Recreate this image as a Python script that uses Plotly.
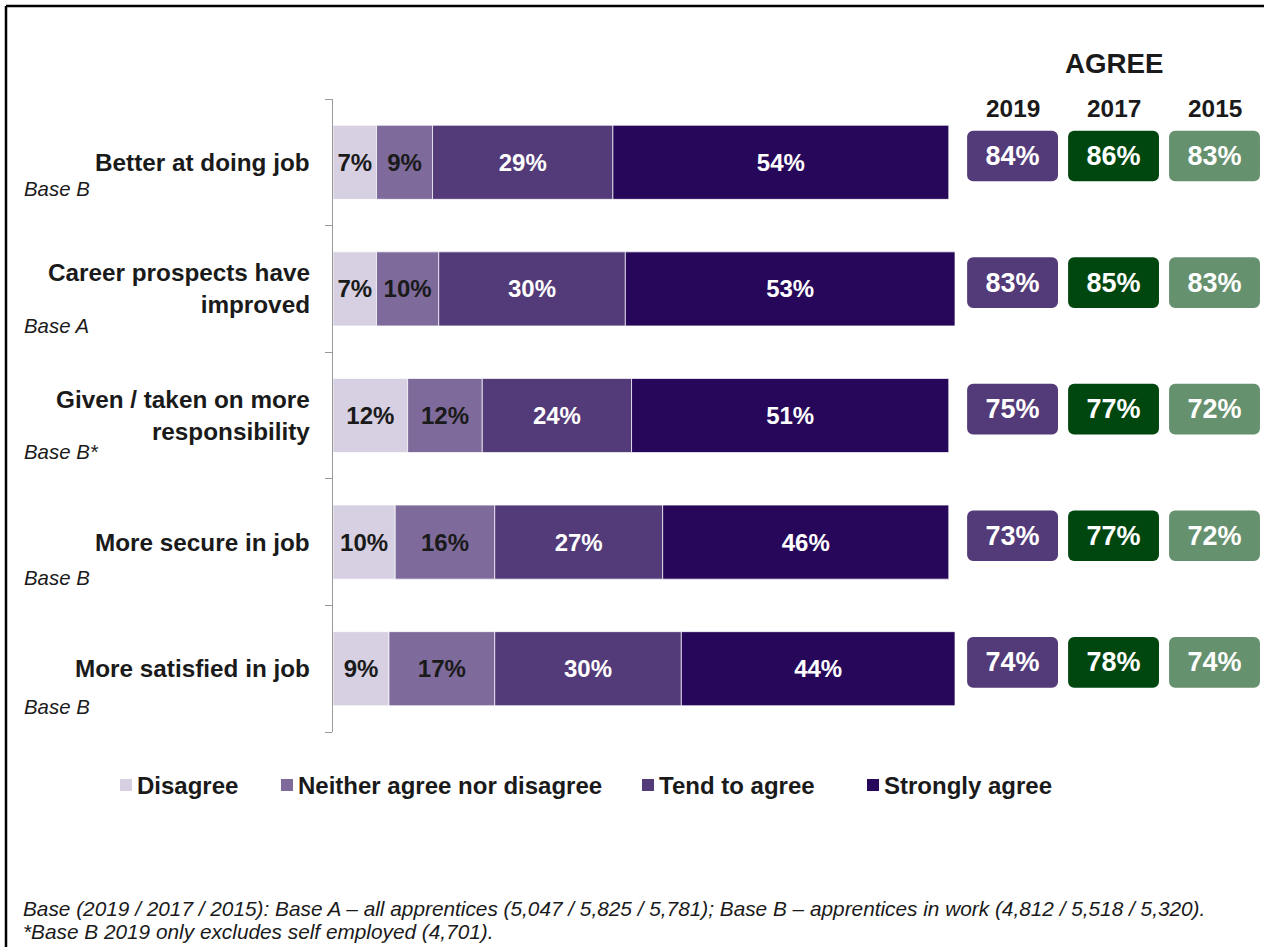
import numpy as np
import plotly.graph_objects as go

# ---- data ----
statements = [
    "Better at doing job",
    "Career prospects have<br>improved",
    "Given / taken on more<br>responsibility",
    "More secure in job",
    "More satisfied in job",
]
bases = ["Base B", "Base A", "Base B*", "Base B", "Base B"]

categories = ["Disagree", "Neither agree nor disagree", "Tend to agree", "Strongly agree"]
disagree = [7, 7, 12, 10, 9]
neither = [9, 10, 12, 16, 17]
tend_agree = [29, 30, 24, 27, 30]
strongly_agree = [54, 53, 51, 46, 44]

years = ["2019", "2017", "2015"]
agree_2019 = [84, 83, 75, 73, 74]
agree_2017 = [86, 85, 77, 77, 78]
agree_2015 = [83, 83, 72, 72, 74]

# ---- styling ----
FONT = "Liberation Sans"
DARK = "#1a1a1a"
W, H = 1264, 947
ML, MR, MT, MB = 333, 0, 99, 215
PW, PH = W - ML - MR, H - MT - MB
BAR_END = 955  # right edge of the 100% bar area

def px_x(p):
    return (p - ML) / PW

def px_y(p):
    return (H - MB - p) / PH

rows = np.arange(len(statements))
split = px_x(BAR_END)

seg_colors = ["#d6d0e2", "#7e6b9c", "#533a79", "#26075a"]
seg_text = [DARK, DARK, "white", "white"]

fig = go.Figure()

left = np.zeros(len(statements))
for name, vals, color, tcolor in zip(categories, [disagree, neither, tend_agree, strongly_agree],
                                      seg_colors, seg_text):
    vals = np.array(vals, dtype=float)
    fig.add_trace(go.Bar(
        name=name, orientation="h", y=rows, x=vals, base=left.copy(),
        width=0.585,
        marker=dict(color=color, line=dict(color="rgba(255,255,255,0.7)", width=1)),
        text=[f"{int(v)}%" for v in vals], textposition="inside",
        insidetextanchor="middle", textangle=0, constraintext="none",
        textfont=dict(family=FONT, size=24, color=tcolor, weight="bold"),
        hoverinfo="skip", showlegend=False,
    ))
    left += vals

box_colors = ["#533a79", "#00460f", "#66916f"]
for k, (yr, vals, color) in enumerate(zip(years, [agree_2019, agree_2017, agree_2015], box_colors)):
    fig.add_trace(go.Bar(
        orientation="h", y=rows, x=[0.9] * len(vals), base=[k] * len(vals),
        width=0.40, offset=-0.25, xaxis="x2", yaxis="y",
        marker=dict(color=color, cornerradius=6, line=dict(width=0)),
        text=[f"{v}%" for v in vals], textposition="inside",
        insidetextanchor="middle", textangle=0, constraintext="none",
        textfont=dict(family=FONT, size=27, color="white", weight="bold"),
        showlegend=False, hoverinfo="skip",
    ))

annotations = []
shapes = []

# statement labels and base notes
base_shift = [27, 37, 36, 36, 38]
for i, (s, b) in enumerate(zip(statements, bases)):
    annotations.append(dict(
        xref="paper", yref="y", x=0, y=i, xanchor="right", yanchor="middle",
        xshift=-21, text=f"<b>{s}</b>", showarrow=False, align="right",
        font=dict(family=FONT, size=24.3, color=DARK),
    ))
    annotations.append(dict(
        xref="paper", yref="y", x=0, y=i, xanchor="left", yanchor="middle",
        xshift=22 - ML, yshift=-base_shift[i], text=f"<i>{b}</i>", showarrow=False,
        font=dict(family=FONT, size=20.4, color=DARK),
    ))

# column headers
for k, yr in enumerate(years):
    annotations.append(dict(
        xref="x2", yref="paper", x=k + 0.45, y=px_y(108), xanchor="center",
        yanchor="middle", text=f"<b>{yr}</b>", showarrow=False,
        font=dict(family=FONT, size=24.4, color=DARK),
    ))
annotations.append(dict(
    xref="x2", yref="paper", x=1.45, y=px_y(64), xanchor="center", yanchor="middle",
    text="<b>AGREE</b>", showarrow=False, font=dict(family=FONT, size=27.7, color=DARK),
))

# legend: colour swatch followed by its label
legend_x = [135, 296, 657, 882]
for name, color, lx in zip(categories, seg_colors, legend_x):
    shapes.append(dict(
        type="rect", xref="paper", yref="paper",
        x0=px_x(lx - 15), x1=px_x(lx - 3), y0=px_y(791), y1=px_y(779),
        fillcolor=color, line=dict(width=0),
    ))
    annotations.append(dict(
        xref="paper", yref="paper", x=px_x(lx), y=px_y(785), xanchor="left",
        yanchor="middle", text=f"<b>{name}</b>", showarrow=False,
        font=dict(family=FONT, size=24, color=DARK),
    ))

# footnote
foot_lines = [
    "Base (2019 / 2017 / 2015): Base A – all apprentices (5,047 / 5,825 / 5,781); "
    "Base B – apprentices in work (4,812 / 5,518 / 5,320).",
    "*Base B 2019 only excludes self employed (4,701).",
]
for line, ly in zip(foot_lines, [908, 931]):
    annotations.append(dict(
        xref="paper", yref="paper", x=px_x(21), y=px_y(ly), xanchor="left",
        yanchor="middle", align="left", showarrow=False, text=f"<i>{line}</i>",
        font=dict(family=FONT, size=20.8, color=DARK),
    ))

# outer frame (top and left edges)
shapes += [
    dict(type="line", xref="paper", yref="paper", x0=px_x(6), x1=px_x(W + 10),
         y0=px_y(6), y1=px_y(6), line=dict(color="black", width=2.5)),
    dict(type="line", xref="paper", yref="paper", x0=px_x(6), x1=px_x(6),
         y0=px_y(6), y1=px_y(H + 10), line=dict(color="black", width=2.5)),
]

fig.update_layout(
    width=W, height=H, barmode="overlay", showlegend=False,
    margin=dict(l=ML, r=MR, t=MT, b=MB),
    paper_bgcolor="white", plot_bgcolor="white",
    font=dict(family=FONT, color=DARK),
    xaxis=dict(domain=[0, split], range=[0, 100], visible=False, fixedrange=True),
    xaxis2=dict(domain=[split, 1], range=[-0.12, 2.94], visible=False, anchor="y"),
    yaxis=dict(range=[4.5, -0.5], tickvals=np.arange(-0.5, 5, 1.0), ticks="outside",
               ticklen=7, tickcolor="#9a9a9a", showline=True, linecolor="#9a9a9a",
               linewidth=1, showticklabels=False, showgrid=False, zeroline=False),
    annotations=annotations, shapes=shapes,
)

fig.write_html("out.html")
